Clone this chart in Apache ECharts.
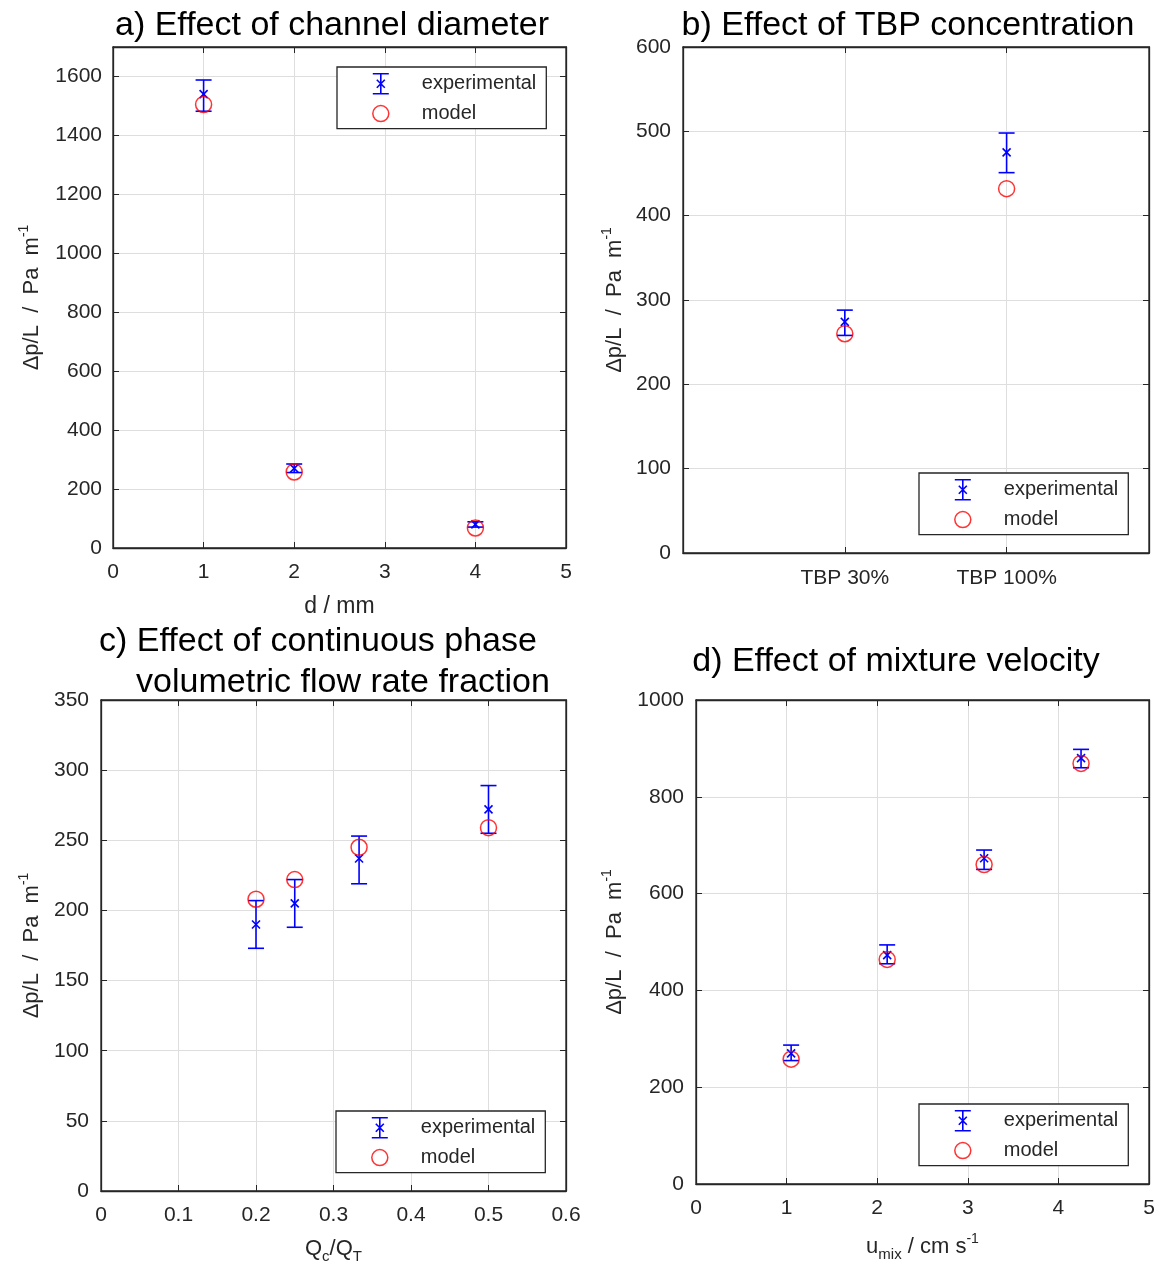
<!DOCTYPE html>
<html>
<head>
<meta charset="utf-8">
<script src="https://cdn.jsdelivr.net/npm/echarts@6/dist/echarts.min.js"></script>
<style>html,body{margin:0;padding:0;background:#fff}#c{width:1162px;height:1271px}</style>
</head>
<body>
<div id="c"></div>
<script>
// ---- Data ----
// a) channel diameter
const aDiameter = [1, 2, 4];
const aExp = [1540, 270, 80];
const aExpLow = [1482, 256, 71];
const aExpHigh = [1588, 285, 89];
const aModel = [1505, 258, 68];
// b) TBP concentration
const bCategories = ['TBP 30%', 'TBP 100%'];
const bExp = [274, 475];
const bExpLow = [258, 451];
const bExpHigh = [288, 498];
const bModel = [260, 432];
// c) continuous phase flow rate fraction
const cFraction = [0.2, 0.25, 0.333, 0.5];
const cExp = [190, 205, 237, 272];
const cExpLow = [173, 188, 219, 255];
const cExpHigh = [207, 222, 253, 289];
const cModel = [208, 222, 245, 259];
// d) mixture velocity
const dVelocity = [1.05, 2.11, 3.18, 4.25];
const dExp = [270, 473, 673, 880];
const dExpLow = [255, 455, 650, 860];
const dExpHigh = [287, 494, 690, 898];
const dModel = [258, 464, 660, 869];

const FONT = 'Liberation Sans, Arial, sans-serif';
const AX = '#262626';
const BLUE = '#0000ff';
const RED = '#ff0000';
const TICK = 21;

const chart = echarts.init(document.getElementById('c'), null, {renderer: 'canvas'});

const grids = [
  {left: 113, top: 47, width: 453, height: 501},
  {left: 683, top: 47, width: 466, height: 506},
  {left: 101, top: 700, width: 465, height: 491},
  {left: 696, top: 700, width: 453, height: 484}
].map(g => Object.assign({show: true, borderColor: AX, borderWidth: 1.3, backgroundColor: '#fff', containLabel: false}, g));

const yName = '{n|Δp/L  /  Pa  m}{s|-1}';
const richY = {
  n: {fontSize: 22, lineHeight: 30, color: AX, fontFamily: FONT},
  s: {fontSize: 14, verticalAlign: 'top', color: AX, fontFamily: FONT}
};
const richX = {
  n: {fontSize: 22, lineHeight: 30, color: AX, fontFamily: FONT},
  s: {fontSize: 14, verticalAlign: 'top', color: AX, fontFamily: FONT},
  b: {fontSize: 15, verticalAlign: 'bottom', color: AX, fontFamily: FONT}
};
const numFmt = v => String(v);

function mainAxis(gi, pos, o) {
  return Object.assign({
    type: 'value', gridIndex: gi, position: pos,
    axisLine: {show: true, onZero: false, lineStyle: {color: AX, width: 1.3}},
    axisTick: {show: true, inside: true, length: 6, lineStyle: {color: AX, width: 1}},
    axisLabel: {color: AX, fontSize: TICK, fontFamily: FONT, margin: 12, formatter: numFmt},
    splitLine: {show: true, lineStyle: {color: '#dedede', width: 1}},
    nameLocation: 'middle'
  }, o);
}
function mirrorAxis(gi, pos, o) {
  return {
    type: 'value', gridIndex: gi, position: pos,
    min: o.min, max: o.max, interval: o.interval,
    axisLine: {show: true, onZero: false, lineStyle: {color: AX, width: 1.3}},
    axisTick: {show: true, inside: true, length: 6, lineStyle: {color: AX, width: 1}},
    axisLabel: {show: false},
    splitLine: {show: false}
  };
}

const xDefs = [
  {min: 0, max: 5, interval: 1, name: 'd / mm', nameGap: 47,
   axisLabel: {color: AX, fontSize: TICK, fontFamily: FONT, margin: 14, formatter: numFmt},
   nameTextStyle: {fontSize: 23, color: AX, fontFamily: FONT}},
  {min: 0, max: 2.88, interval: 1, axisLabel: {color: AX, fontSize: TICK, fontFamily: FONT, margin: 15,
     formatter: v => (v === 1 ? bCategories[0] : (v === 2 ? bCategories[1] : ''))}},
  {min: 0, max: 0.6, interval: 0.1, name: '{n|Q}{b|c}{n|/Q}{b|T}', nameGap: 43, nameTextStyle: {rich: richX},
   axisLabel: {color: AX, fontSize: TICK, fontFamily: FONT, margin: 14, formatter: numFmt}},
  {min: 0, max: 5, interval: 1, name: '{n|u}{b|mix}{n| / cm s}{s|-1}', nameGap: 48, nameTextStyle: {rich: richX},
   axisLabel: {color: AX, fontSize: TICK, fontFamily: FONT, margin: 14, formatter: numFmt}}
];
const yDefs = [
  {min: 0, max: 1700, interval: 200, nameGap: 66, axisLabel: {color: AX, fontSize: TICK, fontFamily: FONT, margin: 11, formatter: v => (v > 1600 ? '' : String(v))}},
  {min: 0, max: 600, interval: 100, nameGap: 53},
  {min: 0, max: 350, interval: 50, nameGap: 54},
  {min: 0, max: 1000, interval: 200, nameGap: 66}
];

const xAxes = [], yAxes = [];
for (let i = 0; i < 4; i++) {
  xAxes.push(mainAxis(i, 'bottom', xDefs[i]));
  xAxes.push(mirrorAxis(i, 'top', xDefs[i]));
  yAxes.push(mainAxis(i, 'left', Object.assign({name: yName, nameTextStyle: {rich: richY}}, yDefs[i])));
  yAxes.push(mirrorAxis(i, 'right', yDefs[i]));
}

function errRender(params, api) {
  const x = api.value(0), y = api.value(1), lo = api.value(2), hi = api.value(3);
  const c = api.coord([x, y]), l = api.coord([x, lo]), h = api.coord([x, hi]);
  const w = 8, m = 4;
  const st = {stroke: BLUE, lineWidth: 1.6, fill: null};
  return {type: 'group', children: [
    {type: 'line', shape: {x1: l[0], y1: l[1], x2: h[0], y2: h[1]}, style: st},
    {type: 'line', shape: {x1: l[0] - w, y1: l[1], x2: l[0] + w, y2: l[1]}, style: st},
    {type: 'line', shape: {x1: h[0] - w, y1: h[1], x2: h[0] + w, y2: h[1]}, style: st},
    {type: 'line', shape: {x1: c[0] - m, y1: c[1] - m, x2: c[0] + m, y2: c[1] + m}, style: st},
    {type: 'line', shape: {x1: c[0] - m, y1: c[1] + m, x2: c[0] + m, y2: c[1] - m}, style: st}
  ]};
}

const panels = [
  {x: aDiameter, exp: aExp, lo: aExpLow, hi: aExpHigh, model: aModel},
  {x: bCategories.map((_, i) => i + 1), exp: bExp, lo: bExpLow, hi: bExpHigh, model: bModel},
  {x: cFraction, exp: cExp, lo: cExpLow, hi: cExpHigh, model: cModel},
  {x: dVelocity, exp: dExp, lo: dExpLow, hi: dExpHigh, model: dModel}
];

const series = [];
panels.forEach((p, i) => {
  series.push({
    type: 'custom', name: 'experimental', xAxisIndex: 2 * i, yAxisIndex: 2 * i,
    renderItem: errRender, encode: {x: 0, y: [1, 2, 3]}, z: 3,
    itemStyle: {color: BLUE},
    data: p.x.map((xv, k) => [xv, p.exp[k], p.lo[k], p.hi[k]])
  });
  series.push({
    type: 'scatter', name: 'model', xAxisIndex: 2 * i, yAxisIndex: 2 * i,
    symbol: 'circle', symbolSize: 16, z: 4,
    itemStyle: {color: 'rgba(0,0,0,0)', borderColor: RED, borderWidth: 1.5},
    data: p.x.map((xv, k) => [xv, p.model[k]])
  });
});

const legendPos = [[337, 67], [919, 473], [336, 1111], [919, 1104]];
const legends = legendPos.map(([l, t]) => ({
  left: l, top: t, orient: 'vertical',
  backgroundColor: '#fff', borderColor: AX, borderWidth: 1.3, borderRadius: 0,
  padding: [6, 10, 5, 35], itemGap: 9, itemWidth: 16, itemHeight: 20,
  selectedMode: false,
  textStyle: {fontSize: 20, color: AX, fontFamily: FONT, padding: [0, 0, 0, 28]},
  data: [
    {name: 'experimental', icon: 'path://M0,0H16M8,0V20M0,20H16M4,6L12,14M12,6L4,14',
     itemStyle: {color: 'rgba(0,0,0,0)', borderColor: BLUE, borderWidth: 1.6}},
    {name: 'model', icon: 'circle',
     itemStyle: {color: 'rgba(0,0,0,0)', borderColor: RED, borderWidth: 1.5}}
  ]
}));

const tStyle = {fontSize: 34, fontWeight: 'normal', color: '#000', fontFamily: FONT};
const titles = [
  {text: 'a) Effect of channel diameter', left: 332, top: 9},
  {text: 'b) Effect of TBP concentration', left: 908, top: 9},
  {text: 'c) Effect of continuous phase', left: 318, top: 625},
  {text: 'volumetric flow rate fraction', left: 343, top: 666},
  {text: 'd) Effect of mixture velocity', left: 896, top: 645}
].map(t => Object.assign({textAlign: 'center', padding: 0, textStyle: tStyle}, t));

chart.setOption({
  animation: false,
  backgroundColor: '#fff',
  title: titles,
  legend: legends,
  grid: grids,
  xAxis: xAxes,
  yAxis: yAxes,
  series: series
});
</script>
</body>
</html>
